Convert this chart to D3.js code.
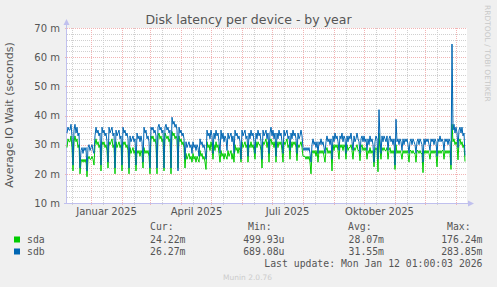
<!DOCTYPE html>
<html>
<head>
<meta charset="utf-8">
<script src="https://cdn.jsdelivr.net/npm/d3@7"></script>
<style>
  body { margin: 0; background: #f0f0f0; }
  svg { display: block; }
</style>
</head>
<body>
<svg id="chart" width="497" height="287"></svg>
<script>
// daily averages in milliseconds (m), one row per week, Sunday..Saturday
var startDate = new Date(Date.UTC(2024, 11, 8));
var endDate = new Date(Date.UTC(2026, 0, 12));

var sdaValues = [
  29,32,31,31,33,29,21,  31,33,31,32,29,30,20,  24,25,24,25,24,25,19,  25,26,25,25,26,25,23,
  30,32,30,31,29,30,21,  31,30,31,29,30,28,22,  31,30,31,32,29,30,20,  31,29,30,31,29,30,21,
  31,30,31,29,30,28,20,  29,27,28,29,27,28,21,  28,27,28,26,28,27,22,  29,27,28,27,28,26,20,
  33,32,33,31,32,30,20,  33,34,32,33,31,32,21,  34,33,32,33,31,32,20,  34.5,33,34,32,33,32,22,
  33,31,32,30,31,29,22,  27,25,26,27,25,26,24,  27,25,26,24,26,25,24,  28,26,27,25,26,24,21.5,
  31,29,30,28,31,29,25,  30,28,31,29,30,27,24,  28,26,27,25,27,26,25,  28,26,27,28,25,27,24,
  30,28,29,27,29,28,24,  31,29,30,31,29,30,24,  30,29,31,29,30,28,25,  31,29,31,30,30,28,22,
  31,30,31,32,29,31,24,  31,32,30,31,29,31,24,  31,29,31,30,31,28,24,  31,30,31,32,29,30,25,
  31,29,31,30,31,29,24.5, 30,29,30,31,29,26,26, 26,25,26,25,26,24,20,  27,28,27,28,26,28,24,
  28,27,28,27,28,26,24,  28,29,27,28,27,28,21,  30,28,30,29,30,28,25,  30,29,30,28,30,29,25,
  30,28,29,29,30,28,25,  29,28,29,30,28,28,24.5, 29,30,28,29,28,29,25, 28,27,29,27,28,27,22.4,
  28,29,28,20.7,34,28,25, 29,28,29,28,28,29,25, 28,29,27,28,27,28,21.5, 30,27,28,27,28,27,25,
  28,27,28,27,28,27,24,  28,28,27,28,27,27,24,  28,28,27,28,27,27,20.4, 28,27,28,27,28,27,25,
  28,27,28,27,28,27,22.4, 28,27,28,27,28,28,25, 28,27,28,27,28,27,21.5, 37,31,32,30,31,30,24.8,
  31,32,30,31,29,30,24.22
];

var sdbValues = [
  34,36,35,35,37,33,23,  35,37,34,36,33,34,22,  28,29,27,29,28,29,21,  29,30,28,29,30,28,27,
  33,36,34,35,33,34,23,  36,34,35,33,34,31,24,  36,34,35,36,33,34,22,  35,33,34,35,32,33,23,
  36,34,35,33,34,32,22,  33,31,32,33,31,32,23,  34,32,33,31,33,31,24,  36,34,35,32,33,31,22,
  36,35,36,34,35,33,22,  36,37,35,36,34,35,22,  36,37,35,36,34,35,22,  39.4,37,38,36,37,35,21,
  36,34,35,33,34,32,25,  31,29,30,31,29,30,27,  31,29,30,28,30,29,26,  32,30,31,29,30,28,25,
  35,33,34,32,35,33,27,  34,32,35,33,34,31,27,  35,32,34,31,33,32,28,  34,32,33,34,31,33,27,
  35,33,34,32,33,31,25,  35,33,34,35,32,33,26,  34,32,35,33,34,31,27,  34,32,35,33,34,31,25,
  35,33,34,35,32,34,27,  34,36,33,35,32,34,26,  34,32,35,33,34,31,27,  35,33,34,35,32,33,28,
  34,32,35,33,34,32,27,  34,32,33,35,33,29,28,  29,28,29,28,29,27,24,  30,32,30,31,29,31,27,
  31,30,32,30,31,29,27,  31,33,31,32,30,32,25,  33,31,34,32,33,31,28,  33,32,34,31,33,32,27,
  33,31,33,32,34,31,28,  33,31,32,34,32,31,27,  32,33,31,33,31,32,28,  32,30,33,31,32,30,24,
  31,33,32,25,42,32,27,  33,31,33,32,31,33,28,  32,33,31,32,30,32,23,  38.7,31,32,30,32,31,28,
  32,30,32,31,32,30,27,  31,32,30,32,31,30,27,  31,32,30,32,31,30,24,  32,30,32,31,32,30,28,
  32,31,32,30,32,31,26,  32,31,33,31,32,31,28,  32,31,32,30,32,31,23,  64.5,35,37,34,36,34,29,
  35,36,34,36,33,34,26.27
];

var yTicks = [10, 20, 30, 40, 50, 60, 70];
var monthLabels = ["Januar 2025", "April 2025", "Juli 2025", "Oktober 2025"];
var labelDates = [new Date(Date.UTC(2025, 0, 16)), new Date(Date.UTC(2025, 3, 16)),
                  new Date(Date.UTC(2025, 6, 16)), new Date(Date.UTC(2025, 9, 16))];

var legendNames = ["sda", "sdb"];
var legendColors = ["#00cc00", "#0066b3"];
var curValues = ["24.22m", "26.27m"];
var minValues = ["499.93u", "689.08u"];
var avgValues = ["28.07m", "31.55m"];
var maxValues = ["176.24m", "283.85m"];

var plotLeft = 67, plotRight = 467, plotTop = 28, plotBottom = 203;
var svg = d3.select("#chart");
var sans = "DejaVu Sans, sans-serif";
var mono = "DejaVu Sans Mono, monospace";

var x = d3.scaleUtc().domain([startDate, endDate]).range([plotLeft, plotRight]);
var y = d3.scaleLinear().domain([10, 70]).range([plotBottom, plotTop]);
var crisp = function(v) { return Math.round(v) + 0.5; };

// plot background
svg.append("rect")
  .attr("x", plotLeft).attr("y", plotTop)
  .attr("width", plotRight - plotLeft).attr("height", plotBottom - plotTop)
  .attr("fill", "#ffffff");

var grid = svg.append("g");

// minor grid
d3.range(12, 70, 2).filter(function(v) { return v % 10 !== 0; }).forEach(function(v) {
  grid.append("line")
    .attr("x1", plotLeft).attr("x2", plotRight)
    .attr("y1", crisp(y(v))).attr("y2", crisp(y(v)))
    .attr("stroke", "#d0d0d0").attr("stroke-dasharray", "1,1");
});
d3.utcMonth.range(d3.utcMonth.floor(startDate), endDate).map(function(d) {
  return new Date(Date.UTC(d.getUTCFullYear(), d.getUTCMonth(), 13));
}).filter(function(d) { return d > startDate && d < endDate; })
  .forEach(function(d) {
    grid.append("line")
      .attr("x1", crisp(x(d))).attr("x2", crisp(x(d)))
      .attr("y1", plotTop).attr("y2", plotBottom + 2)
      .attr("stroke", "#d0d0d0").attr("stroke-dasharray", "1,1");
  });

// major grid
yTicks.forEach(function(v) {
  grid.append("line")
    .attr("x1", plotLeft - 2).attr("x2", plotRight)
    .attr("y1", crisp(y(v))).attr("y2", crisp(y(v)))
    .attr("stroke", "#f2b4b4").attr("stroke-dasharray", "1,1");
});
d3.utcMonth.range(d3.utcMonth.ceil(startDate), endDate).forEach(function(d) {
  grid.append("line")
    .attr("x1", crisp(x(d))).attr("x2", crisp(x(d)))
    .attr("y1", plotTop).attr("y2", plotBottom + 2)
    .attr("stroke", "#f2b4b4").attr("stroke-dasharray", "1,1");
});

// axes lines with arrows
svg.append("path")
  .attr("d", "M" + (plotLeft - 0.5) + "," + (plotBottom + 1) + "V" + (plotTop - 4))
  .attr("stroke", "#c0c0ee").attr("fill", "none");
svg.append("path")
  .attr("d", "M" + (plotLeft - 3) + "," + (plotBottom + 0.5) + "H" + (plotRight + 1))
  .attr("stroke", "#c0c0ee").attr("fill", "none");
svg.append("path")
  .attr("d", "M" + (plotLeft - 3.5) + "," + (plotTop - 3) + "L" + (plotLeft - 0.5) + "," + (plotTop - 9) + "L" + (plotLeft + 2.5) + "," + (plotTop - 3) + "Z")
  .attr("fill", "#c0c0ee");
svg.append("path")
  .attr("d", "M" + (plotRight + 1) + "," + (plotBottom - 2.5) + "L" + (plotRight + 7) + "," + (plotBottom + 0.5) + "L" + (plotRight + 1) + "," + (plotBottom + 3.5) + "Z")
  .attr("fill", "#c0c0ee");

// data lines
var dayOf = function(i) { return d3.utcDay.offset(startDate, i); };
var line = d3.line()
  .x(function(d, i) { return x(dayOf(i)); })
  .y(function(d) { return y(d); });

[sdaValues, sdbValues].forEach(function(vals, k) {
  svg.append("path")
    .datum(vals)
    .attr("d", line)
    .attr("fill", "none")
    .attr("stroke", legendColors[k])
    .attr("stroke-width", 1);
});

// y axis labels
var yAxis = d3.axisLeft(y).tickValues(yTicks)
  .tickFormat(function(d) { return d + " m"; })
  .tickSize(0).tickPadding(7);
var yg = svg.append("g").attr("transform", "translate(" + plotLeft + ",0)").call(yAxis);
yg.select(".domain").remove();
yg.selectAll("text").attr("font-family", sans).attr("font-size", "10px").attr("fill", "#555");

// x axis labels
var xAxis = d3.axisBottom(x).tickValues(labelDates)
  .tickFormat(function(d, i) { return monthLabels[i]; })
  .tickSize(0).tickPadding(5);
var xg = svg.append("g").attr("transform", "translate(0," + plotBottom + ")").call(xAxis);
xg.select(".domain").remove();
xg.selectAll("text").attr("font-family", sans).attr("font-size", "10px").attr("fill", "#555");

// title
svg.append("text")
  .attr("x", 248.5).attr("y", 24)
  .attr("text-anchor", "middle")
  .attr("font-family", sans).attr("font-size", "12.5px").attr("fill", "#555")
  .text("Disk latency per device - by year");

// y axis title
svg.append("text")
  .attr("transform", "translate(13,115) rotate(-90)")
  .attr("text-anchor", "middle")
  .attr("font-family", sans).attr("font-size", "11px").attr("fill", "#555")
  .text("Average IO Wait (seconds)");

// rrdtool credit
svg.append("text")
  .attr("transform", "translate(485,5) rotate(90)")
  .attr("font-family", sans).attr("font-size", "7.5px").attr("fill", "#c8c8c8")
  .text("RRDTOOL / TOBI OETIKER");

// legend
var legend = svg.append("g")
  .attr("font-family", mono).attr("font-size", "9.8px").attr("fill", "#555");

legend.append("text").attr("x", 150).attr("y", 230).text("Cur:");
legend.append("text").attr("x", 248).attr("y", 230).text("Min:");
legend.append("text").attr("x", 348).attr("y", 230).text("Avg:");
legend.append("text").attr("x", 447).attr("y", 230).text("Max:");

legendNames.forEach(function(name, i) {
  var yy = 243 + i * 12;
  svg.append("rect")
    .attr("x", 14).attr("y", yy - 6.5).attr("width", 6).attr("height", 6)
    .attr("fill", legendColors[i]);
  legend.append("text").attr("x", 27).attr("y", yy).text(name);
  legend.append("text").attr("x", 185.5).attr("y", yy).attr("text-anchor", "end").text(curValues[i]);
  legend.append("text").attr("x", 284.5).attr("y", yy).attr("text-anchor", "end").text(minValues[i]);
  legend.append("text").attr("x", 384).attr("y", yy).attr("text-anchor", "end").text(avgValues[i]);
  legend.append("text").attr("x", 482.5).attr("y", yy).attr("text-anchor", "end").text(maxValues[i]);
});

legend.append("text").attr("x", 482.5).attr("y", 267).attr("text-anchor", "end")
  .text("Last update: Mon Jan 12 01:00:03 2026");

svg.append("text")
  .attr("x", 223).attr("y", 280)
  .attr("font-family", sans).attr("font-size", "7.5px").attr("fill", "#cccccc")
  .text("Munin 2.0.76");
</script>
</body>
</html>
